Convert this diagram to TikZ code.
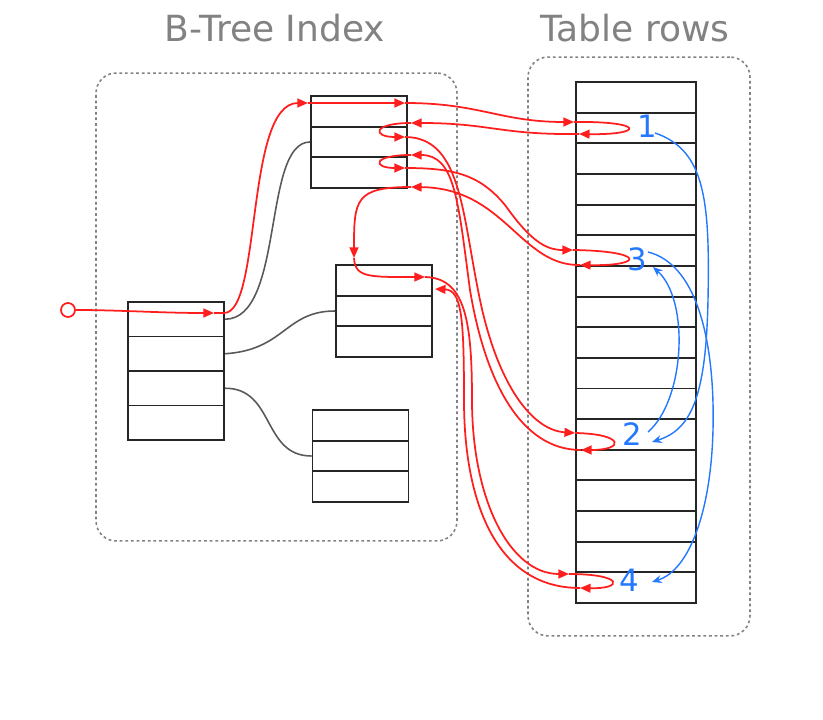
\documentclass[tikz,border=0pt]{standalone}
\usepackage{fontspec}
\setmainfont{DejaVu Sans}
\usepackage{xcolor}
\usetikzlibrary{arrows.meta}
\definecolor{ptrred}{RGB}{255,30,30}
\definecolor{rowblue}{RGB}{35,120,255}
\definecolor{boxgray}{RGB}{130,130,130}

\begin{document}
\begin{tikzpicture}[x=0.02cm, y=-0.02cm,
  cell/.style={draw=black!85, line width=1.1pt, minimum width=1.92cm, inner sep=0},
  tablerow/.style={draw=black!85, line width=1.1pt, minimum width=2.4cm, minimum height=0.613cm, inner sep=0},
  group/.style={draw=boxgray, line width=0.9pt, dash pattern=on 1.6pt off 1.6pt, rounded corners=0.4cm, inner sep=0},
  title/.style={text=boxgray, font=\fontsize{20.5}{24}\selectfont},
  num/.style={text=rowblue, font=\fontsize{17.5}{20}\selectfont, inner sep=1pt},
  ptr/.style={ptrred, line width=1pt, -{Triangle[length=6pt,width=5pt]}},
  nxt/.style={rowblue, line width=0.8pt, -{Stealth[length=5.5pt,width=4.5pt]}},
  link/.style={black!65, line width=0.9pt}]
   \useasboundingbox (0,0) rectangle (823,720);

   \node [title] (idxtitle) at (275,28) {B-Tree Index};
   \node [title] (rowtitle) at (635,28) {Table rows};
   \node [group, minimum width=7.22cm, minimum height=9.36cm] (index) at (276.5,307) {};
   \node [group, minimum width=4.44cm, minimum height=11.58cm] (heap) at (639,346.5) {};

   \foreach \i in {1,...,4}
     \node [cell, minimum height=0.69cm] (root\i) at (176,{302+(\i-0.5)*34.5}) {};
   \foreach \i in {1,2,3} {
     \node [cell, minimum height=0.613cm] (top\i) at (359,{96+(\i-0.5)*30.67}) {};
     \node [cell, minimum height=0.613cm] (mid\i) at (384,{265+(\i-0.5)*30.67}) {};
     \node [cell, minimum height=0.613cm] (bot\i) at (360.5,{410+(\i-0.5)*30.67}) {};
   }
   \foreach \i in {1,...,17}
     \node [tablerow] (row\i) at (636,{82+(\i-0.5)*30.65}) {};

   \node [num] (n1) at (647,126) {1};
   \node [num] (n3) at (637,259) {3};
   \node [num] (n2) at (632,434) {2};
   \node [num] (n4) at (629,580) {4};

   \draw [link] (root1.east) .. controls (285,319) and (262,142) .. (top2.west);
   \draw [link] (root2.east) .. controls (285,350) and (285,311) .. (mid2.west);
   \draw [link] (root3.east) .. controls (275,388) and (262,456) .. (bot2.west);

   \node [circle, draw=ptrred, line width=1pt, minimum size=0.28cm, inner sep=0] (start) at (68,310) {};
   \coordinate (a1) at (214,313);
   \coordinate (a2) at (308,103);
   \coordinate (a3) at (405,103);
   \coordinate (in1) at (574,122);
   \coordinate (out1) at (579,134);
   \coordinate (back1) at (411,123);
   \coordinate (go2) at (405,137);
   \coordinate (in2) at (575,433);
   \coordinate (out2) at (581,450);
   \coordinate (back2) at (411,155);
   \coordinate (go3) at (405,168);
   \coordinate (in3) at (573,250);
   \coordinate (out3) at (580,265);
   \coordinate (back3) at (411,187);
   \coordinate (down) at (354,258);
   \coordinate (a4) at (425,277);
   \coordinate (in4) at (569,574);
   \coordinate (out4) at (580,588);
   \coordinate (back4) at (435,289);

   \draw [ptr] (start.east) .. controls (120,310) and (160,313) .. (a1);
   \draw [ptr] (a1) -- (224,313) .. controls (262,313) and (245,103) .. (a2);
   \draw [ptr] (a2) -- (a3);
   \draw [ptr] (a3) .. controls (480,103) and (500,122) .. (in1);
   \draw [ptr] (in1) .. controls (645,121) and (645,135) .. (out1);
   \draw [ptr] (out1) .. controls (500,135) and (490,123) .. (back1);
   \draw [ptr] (back1) .. controls (372,123) and (372,137) .. (go2);
   \draw [ptr] (go2) .. controls (460,137) and (462,210) .. (478,290) .. controls (495,380) and (530,430) .. (in2);
   \draw [ptr] (in2) .. controls (625,434) and (625,450) .. (out2);
   \draw [ptr] (out2) .. controls (520,450) and (485,380) .. (470,290) .. controls (458,200) and (455,155) .. (back2);
   \draw [ptr] (back2) .. controls (372,155) and (372,168) .. (go3);
   \draw [ptr] (go3) .. controls (455,168) and (480,175) .. (505,205) .. controls (530,240) and (545,250) .. (in3);
   \draw [ptr] (in3) .. controls (645,251) and (645,266) .. (out3);
   \draw [ptr] (out3) .. controls (520,266) and (505,188) .. (back3);
   \draw [ptr] (back3) .. controls (355,187) and (354,200) .. (down);
   \draw [ptr] (down) .. controls (355,278) and (370,277) .. (a4);
   \draw [ptr] (a4) .. controls (465,278) and (472,320) .. (472,400) .. controls (472,500) and (510,574) .. (in4);
   \draw [ptr] (in4) .. controls (624,574) and (624,589) .. (out4);
   \draw [ptr] (out4) .. controls (495,588) and (464,500) .. (464,400) .. controls (464,320) and (462,290) .. (back4);

   \coordinate (s1) at (655,133);
   \coordinate (e2) at (652,442);
   \coordinate (s2) at (648,432);
   \coordinate (e3) at (653,267);
   \coordinate (s3) at (648,252);
   \coordinate (e4) at (652,582);
   \draw [nxt] (s1) .. controls (705,150) and (710,200) .. (708,300) .. controls (706,400) and (690,430) .. (e2);
   \draw [nxt] (s2) .. controls (685,400) and (690,300) .. (e3);
   \draw [nxt] (s3) .. controls (700,265) and (715,350) .. (713,430) .. controls (711,510) and (690,570) .. (e4);
\end{tikzpicture}
\end{document}
